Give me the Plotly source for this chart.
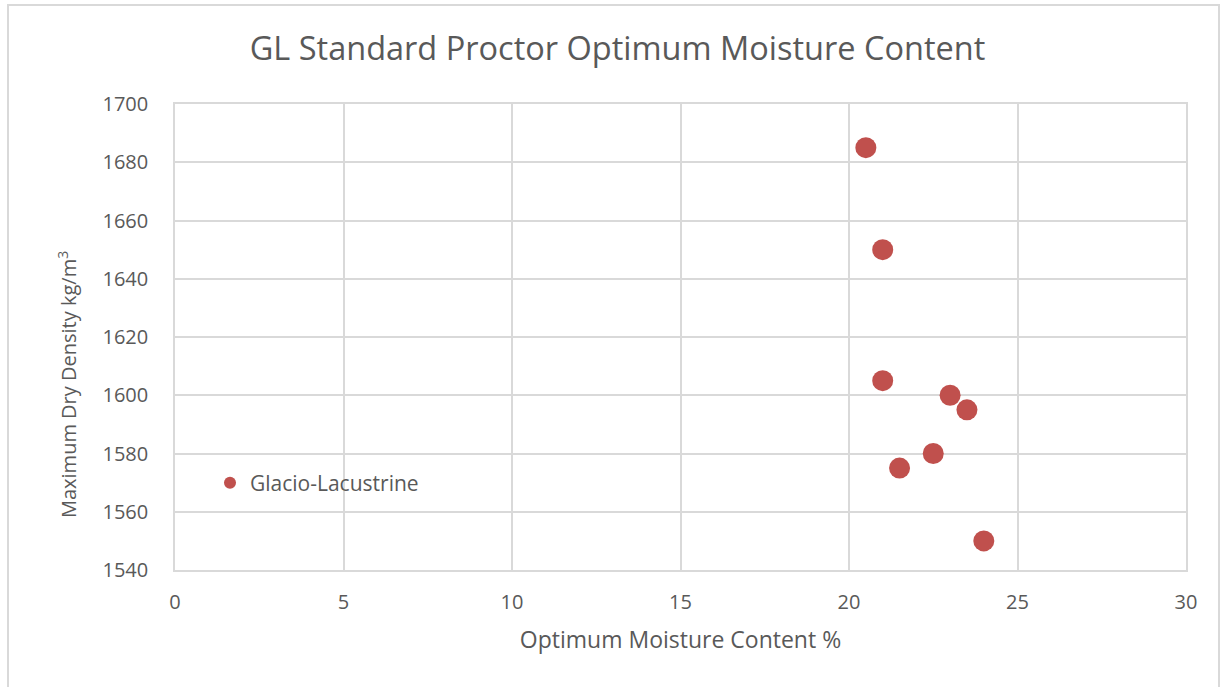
import plotly.graph_objects as go

# Standard Proctor results for glacio-lacustrine samples
moisture_pct = [20.5, 21.0, 21.0, 23.0, 23.5, 22.5, 21.5, 24.0]
dry_density = [1685, 1650, 1605, 1600, 1595, 1580, 1575, 1550]
series_name = "Glacio-Lacustrine"

FONT = "'Open Sans', sans-serif"
GREY = "#595959"
GRID = "#D9D9D9"

fig = go.Figure()
fig.add_trace(go.Scatter(
    x=moisture_pct, y=dry_density, mode="markers", name=series_name,
    marker=dict(size=21, color="#C0504D"),
))

W, H = 1221, 687
L, R, T, B = 175, 35, 104, 117
pw, ph = W - L - R, H - T - B

axis_common = dict(
    showgrid=True, gridcolor=GRID, gridwidth=1.5,
    showline=True, linecolor=GRID, linewidth=1.5, mirror=True,
    zeroline=False, ticks="",
    tickfont=dict(family=FONT, size=20, color=GREY),
)

fig.update_layout(
    width=W, height=H,
    margin=dict(l=L, r=R, t=T, b=B),
    paper_bgcolor="white", plot_bgcolor="white",
    title=dict(text="GL Standard Proctor Optimum Moisture Content",
               x=(617.5) / W, xanchor="center", y=1 - 49 / H, yanchor="middle",
               font=dict(family=FONT, size=32.5, color=GREY)),
    xaxis=dict(range=[0, 30], dtick=5, ticklabelstandoff=13,
               title=dict(text="Optimum Moisture Content %", standoff=18,
                          font=dict(family=FONT, size=23, color=GREY)), **axis_common),
    yaxis=dict(range=[1540, 1700], dtick=20, ticklabelstandoff=21, **axis_common),
    legend=dict(x=(210 - L) / pw, y=(H - B - 483) / ph, xanchor="left", yanchor="middle",
                bgcolor="rgba(0,0,0,0)", font=dict(family=FONT, size=21, color=GREY),
                itemsizing="constant"),
    showlegend=True,
)

# Vertical axis title, placed lower than the axis midpoint
fig.add_annotation(text="Maximum Dry Density kg/m<sup>3</sup>", textangle=-90,
                   xref="paper", yref="paper", x=(67 - L) / pw, y=(H - B - 385) / ph,
                   xanchor="center", yanchor="middle", showarrow=False,
                   font=dict(family=FONT, size=20, color=GREY))

# Chart-area frame
fig.add_shape(type="rect", xref="paper", yref="paper",
              x0=(8 - L) / pw, x1=(1219 - L) / pw,
              y0=(H - B - 700) / ph, y1=(H - B - 5) / ph,
              line=dict(color=GRID, width=2), fillcolor="rgba(0,0,0,0)", layer="below")

fig.write_html("out.html")
